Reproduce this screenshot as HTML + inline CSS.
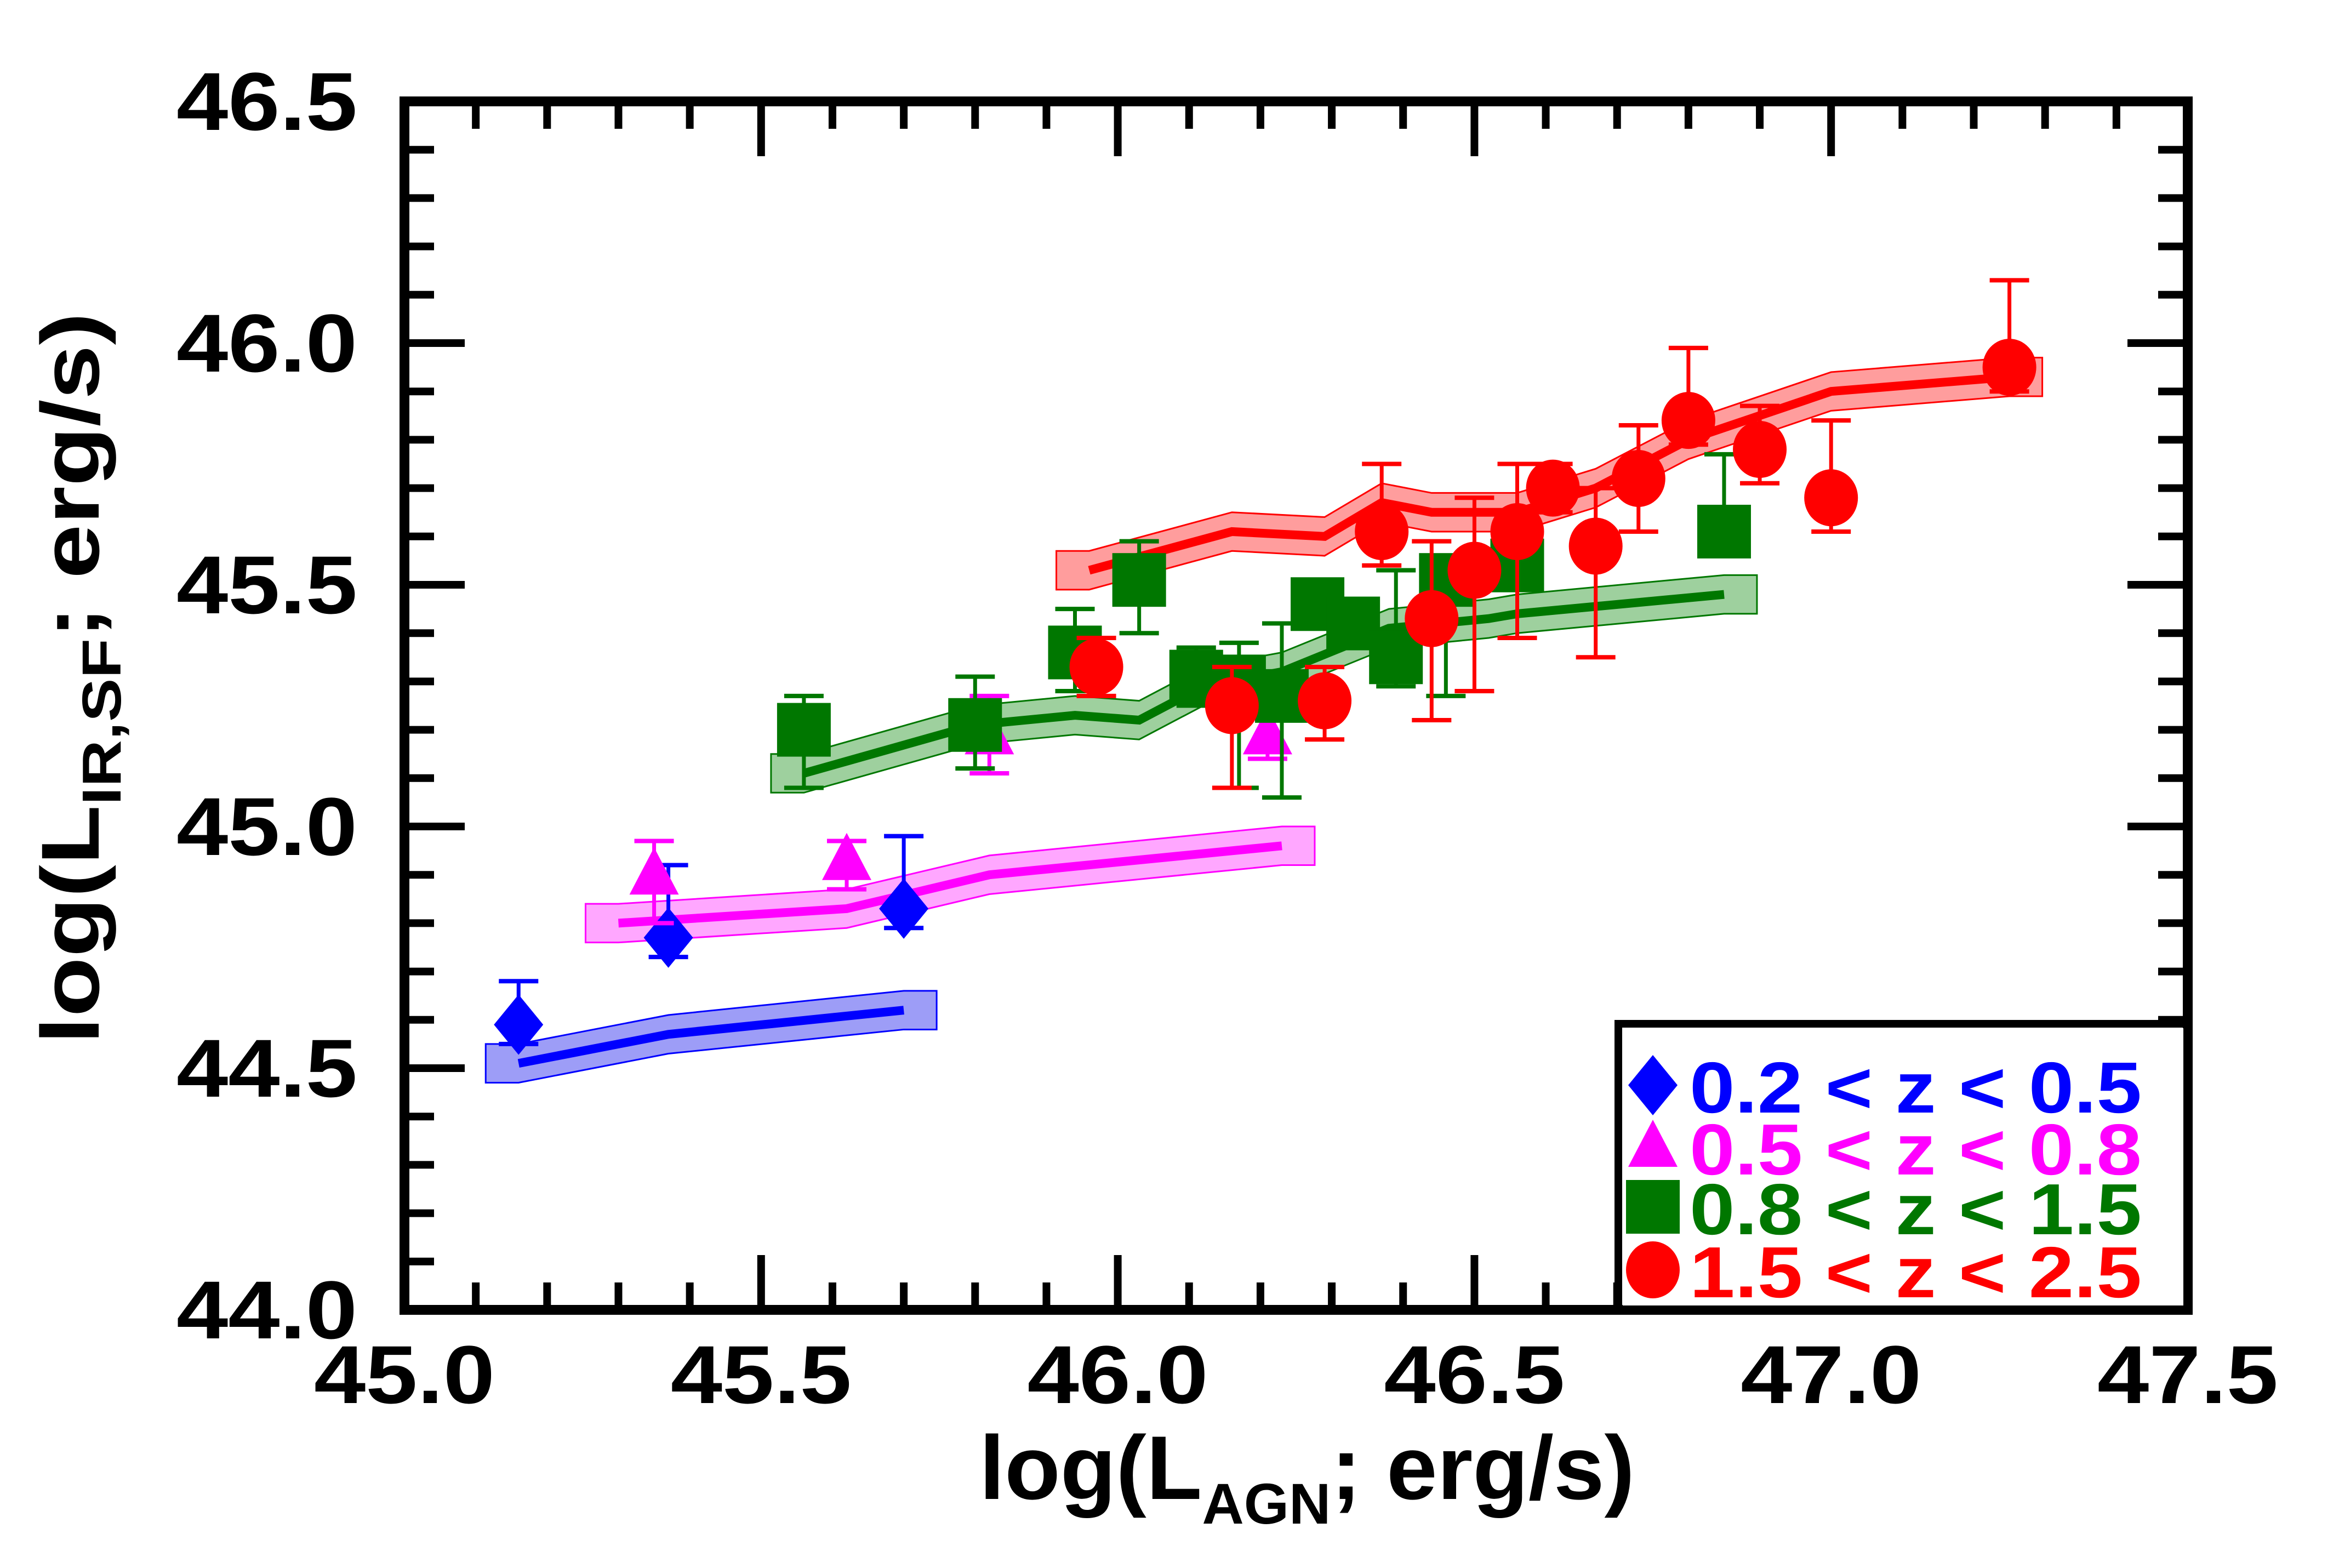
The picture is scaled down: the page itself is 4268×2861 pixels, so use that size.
<!DOCTYPE html>
<html><head><meta charset="utf-8"><style>
html,body{margin:0;padding:0;background:#fff;}
svg{display:block;}
text{font-family:"Liberation Sans Narrow","Liberation Sans",sans-serif;font-weight:bold;}
</style></head><body>
<svg id="chart" width="4268" height="2861" viewBox="0 0 4268 2861" xmlns="http://www.w3.org/2000/svg">
<rect x="0" y="0" width="4268" height="2861" fill="#fff"/>
<g id="bands"></g>
<g id="lines"></g>
<g id="marks"></g>
<g id="axes"></g>
<g id="legend"></g>
<text id="xtitle" x="0" y="0" font-size="165" style="font-family:'Liberation Sans',sans-serif;font-weight:bold">log(L<tspan font-size="105" dy="45">AGN</tspan><tspan dy="-45">; erg/s)</tspan></text>
<text id="ytitle" x="0" y="0" font-size="150" style="font-family:'Liberation Sans',sans-serif;font-weight:bold">log(L<tspan font-size="100" dy="40">IR,SF</tspan><tspan dy="-40">; erg/s)</tspan></text>
</svg>
<script>
// ---- data ----
const xTicks = ["45.0","45.5","46.0","46.5","47.0","47.5"];
const yTicks = ["44.0","44.5","45.0","45.5","46.0","46.5"];

const blueX = [45.16, 45.37, 45.70];
const blueY = [44.59, 44.77, 44.83];
const blueUp = [0.09, 0.15, 0.15];
const blueDn = [0.04, 0.04, 0.04];
const blueLineX = [45.16, 45.37, 45.70];
const blueLineY = [44.51, 44.57, 44.62];

const magX = [45.35, 45.62, 45.82, 46.21];
const magY = [44.90, 44.93, 45.19, 45.19];
const magUp = [0.07, 0.04, 0.08, 0.05];
const magDn = [0.10, 0.06, 0.08, 0.05];
const magLineX = [45.30, 45.62, 45.82, 46.23];
const magLineY = [44.80, 44.83, 44.90, 44.96];

const grnX = [45.56, 45.80, 45.94, 46.03, 46.11, 46.17, 46.23, 46.28, 46.33, 46.39, 46.46, 46.56, 46.85];
const grnY = [45.20, 45.21, 45.36, 45.51, 45.31, 45.30, 45.27, 45.46, 45.42, 45.35, 45.51, 45.54, 45.61];
const grnUp = [0.07, 0.10, 0.09, 0.08, 0.06, 0.08, 0.15, 0.05, 0.05, 0.18, 0.05, 0.05, 0.16];
const grnDn = [0.12, 0.09, 0.08, 0.11, 0.06, 0.22, 0.21, 0.05, 0.05, 0.06, 0.24, 0.05, 0.05];
const grnLineX = [45.56, 45.80, 45.94, 46.03, 46.12, 46.23, 46.38, 46.52, 46.56, 46.85];
const grnLineY = [45.11, 45.21, 45.23, 45.22, 45.29, 45.32, 45.41, 45.43, 45.44, 45.48];

const redX = [45.97, 46.16, 46.29, 46.37, 46.44, 46.50, 46.56, 46.61, 46.67, 46.73, 46.80, 46.90, 47.00, 47.25];
const redY = [45.33, 45.25, 45.26, 45.61, 45.43, 45.53, 45.61, 45.70, 45.58, 45.72, 45.84, 45.78, 45.68, 45.95];
const redUp = [0.06, 0.08, 0.07, 0.14, 0.16, 0.15, 0.14, 0.05, 0.12, 0.11, 0.15, 0.09, 0.16, 0.18];
const redDn = [0.06, 0.17, 0.08, 0.07, 0.21, 0.25, 0.22, 0.05, 0.23, 0.11, 0.05, 0.07, 0.07, 0.05];
const redLineX = [45.96, 46.16, 46.29, 46.37, 46.44, 46.56, 46.67, 46.80, 46.90, 47.00, 47.25];
const redLineY = [45.53, 45.61, 45.60, 45.67, 45.65, 45.65, 45.70, 45.80, 45.85, 45.90, 45.93];

const legendLabels = ["0.2 < z < 0.5","0.5 < z < 0.8","0.8 < z < 1.5","1.5 < z < 2.5"];

// ---- scales ----
const X0=738, X1=3992, Y0=2390, Y1=185;
function X(v){return X0+(v-45)*(X1-X0)/2.5;}
function Y(v){return Y0-(v-44)*(Y0-Y1)/2.5;}
const NS="http://www.w3.org/2000/svg";
function mk(tag,attrs,parent){const e=document.createElementNS(NS,tag);for(const k in attrs)e.setAttribute(k,attrs[k]);parent.appendChild(e);return e;}
const bands=document.getElementById('bands'),lines=document.getElementById('lines'),marks=document.getElementById('marks'),axes=document.getElementById('axes'),legend=document.getElementById('legend');

function drawBand(xs,ys,color,fill,name){
  const h=0.04, ext=60;
  const up=[],dn=[];
  up.push([X(xs[0])-ext,Y(ys[0]+h)]);
  dn.push([X(xs[0])-ext,Y(ys[0]-h)]);
  for(let i=0;i<xs.length;i++){up.push([X(xs[i]),Y(ys[i]+h)]);dn.push([X(xs[i]),Y(ys[i]-h)]);}
  const n=xs.length-1;
  up.push([X(xs[n])+ext,Y(ys[n]+h)]);dn.push([X(xs[n])+ext,Y(ys[n]-h)]);
  const pts=up.concat(dn.reverse()).map(p=>p.join(',')).join(' ');
  const b=mk('polygon',{points:pts,fill:fill,stroke:color,'stroke-width':3},bands);
  
  
  const l=mk('polyline',{points:xs.map((x,i)=>X(x)+','+Y(ys[i])).join(' '),fill:'none',stroke:color,'stroke-width':16},lines);
  
  
}
drawBand(blueLineX,blueLineY,'#0000ff','rgba(60,60,240,0.5)','blue');
drawBand(magLineX,magLineY,'#ff00ff','rgba(255,80,255,0.5)','magenta');
drawBand(grnLineX,grnLineY,'#007700','rgba(40,150,40,0.45)','green');
drawBand(redLineX,redLineY,'#ff0000','rgba(255,60,60,0.5)','red');

function errBar(x,y,up,dn,color,name){
  const g=mk('g',{},marks);
  
  
  const cx=X(x);
  mk('line',{x1:cx,x2:cx,y1:Y(y+up),y2:Y(y-dn),stroke:color,'stroke-width':7},g);
  mk('line',{x1:cx-36,x2:cx+36,y1:Y(y+up),y2:Y(y+up),stroke:color,'stroke-width':8},g);
  mk('line',{x1:cx-36,x2:cx+36,y1:Y(y-dn),y2:Y(y-dn),stroke:color,'stroke-width':8},g);
}
function marker(type,cx,cy,color,parent){
  if(type==='diamond') return mk('polygon',{points:`${cx},${cy-55} ${cx+45},${cy} ${cx},${cy+55} ${cx-45},${cy}`,fill:color},parent);
  if(type==='tri') return mk('polygon',{points:`${cx},${cy-50} ${cx+45},${cy+36} ${cx-45},${cy+36}`,fill:color},parent);
  if(type==='sq') return mk('rect',{x:cx-49,y:cy-49,width:98,height:98,fill:color},parent);
  return mk('ellipse',{cx:cx,cy:cy,rx:49,ry:52,fill:color},parent);
}
function drawPts(xs,ys,ups,dns,type,color,name){
  for(let i=0;i<xs.length;i++) errBar(xs[i],ys[i],ups[i],dns[i],color,name);
  for(let i=0;i<xs.length;i++){
    const m=marker(type,X(xs[i]),Y(ys[i]),color,marks);
    
    
  }
}
drawPts(blueX,blueY,blueUp,blueDn,'diamond','#0000ff','blue');
drawPts(magX,magY,magUp,magDn,'tri','#ff00ff','magenta');
drawPts(grnX,grnY,grnUp,grnDn,'sq','#007700','green');
drawPts(redX,redY,redUp,redDn,'circ','#ff0000','red');

// ---- legend ----
const lx=2953, ly=1868;
const lb=mk('path',{d:`M${lx},${Y0} L${lx},${ly} L${X1},${ly}`,fill:'none',stroke:'#000','stroke-width':14},legend);


mk('rect',{x:lx+8,y:ly+8,width:X1-lx-16,height:Y0-ly-16,fill:'#fff'},legend);
const lcols=['#0000ff','#ff00ff','#007700','#ff0000'];
const ltypes=['diamond','tri','sq','circ'];
const lrows=[1980,2093,2202,2317];
for(let i=0;i<4;i++){
  const g=mk('g',{},legend);
  
  
  marker(ltypes[i],3016,lrows[i],lcols[i],g);
  const t=mk('text',{x:3083,y:lrows[i]+50,fill:lcols[i],'font-size':132,textLength:825,lengthAdjust:'spacingAndGlyphs'},g);
  t.textContent=legendLabels[i];
}

// ---- axes ----
const fr=mk('rect',{x:X0,y:Y1,width:X1-X0,height:Y0-Y1,fill:'none',stroke:'#000','stroke-width':18},axes);


for(let k=0;k<=25;k++){
  const v=45+k*0.1, x=X(v), L=(k%5===0)?100:50;
  mk('line',{x1:x,x2:x,y1:Y0,y2:Y0-L,stroke:'#000','stroke-width':14},axes);
  mk('line',{x1:x,x2:x,y1:Y1,y2:Y1+L,stroke:'#000','stroke-width':14},axes);
}
for(let k=0;k<=25;k++){
  const v=44+k*0.1, y=Y(v), L=(k%5===0)?110:54;
  mk('line',{x1:X0,x2:X0+L,y1:y,y2:y,stroke:'#000','stroke-width':14},axes);
  mk('line',{x1:X1,x2:X1-L,y1:y,y2:y,stroke:'#000','stroke-width':14},axes);
}
xTicks.forEach((s,i)=>{
  const t=mk('text',{x:X(45+i*0.5),y:2560,'text-anchor':'middle','font-size':150,textLength:330,lengthAdjust:'spacingAndGlyphs'},axes);
  
  
  t.textContent=s;
});
yTicks.forEach((s,i)=>{
  const t=mk('text',{x:322,y:Y(44+i*0.5)+52,'font-size':150,textLength:330,lengthAdjust:'spacingAndGlyphs'},axes);
  
  
  t.textContent=s;
});

// ---- axis titles, fitted to target extents ----
function fit(el,x0,w,y,rot){
  const bb=el.getBBox();
  const s=w/bb.width;
  if(!rot){
    el.setAttribute('transform',`translate(${x0},${y}) scale(${s},1)`);
  } else {
    // rotated: text runs upward; x0 is bottom of text in page coords, w is length
    el.setAttribute('transform',`translate(${y},${x0}) rotate(-90) scale(${s},1)`);
  }
}
fit(document.getElementById('xtitle'),1787,1196,2735,false);
fit(document.getElementById('ytitle'),1905,1335,180,true);
</script>
</body></html>
